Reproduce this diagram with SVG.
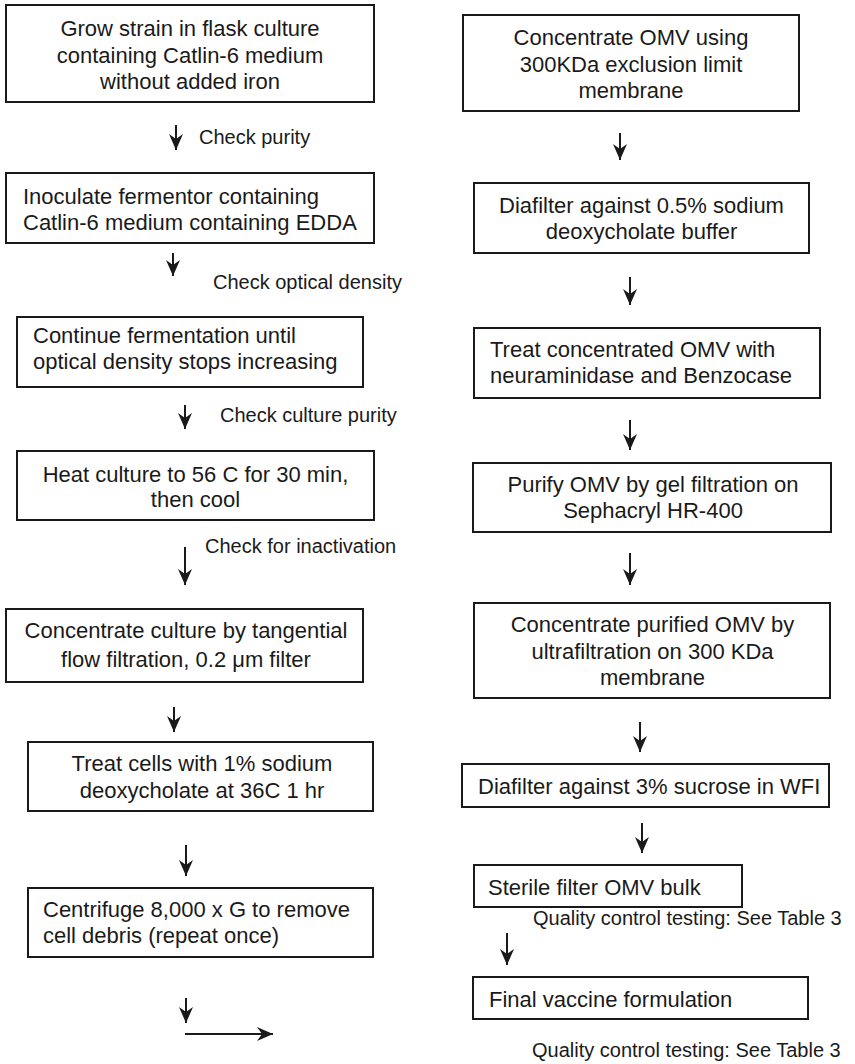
<svg xmlns="http://www.w3.org/2000/svg" width="855" height="1064" viewBox="0 0 855 1064">
<style>
.box{fill:#fff;stroke:#1a1a1a;stroke-width:2}
.t{font-family:"Liberation Sans",Arial,sans-serif;font-size:22px;fill:#1a1a1a}
.c{text-anchor:middle}
.lbl{font-family:"Liberation Sans",Arial,sans-serif;font-size:20px;fill:#1a1a1a}
.ar{stroke:#1a1a1a;stroke-width:2;fill:none;marker-end:url(#ah)}
</style>
<defs>
<marker id="ah" viewBox="0 0 16 14" refX="16" refY="7" markerWidth="16" markerHeight="14" markerUnits="userSpaceOnUse" orient="auto">
<path d="M0,0 L16,7 L0,14 L5,7 Z" fill="#1a1a1a"/>
</marker>
</defs>
<rect width="855" height="1064" fill="#fff"/>
<g id="b1"><rect class="box" x="6" y="5" width="368" height="97"/>
<text class="t c" x="190" y="36">Grow strain in flask culture</text>
<text class="t c" x="190" y="63">containing Catlin-6 medium</text>
<text class="t c" x="190" y="89">without added iron</text></g>
<g id="b2"><rect class="box" x="6" y="173" width="368" height="70"/>
<text class="t" x="23" y="204">Inoculate fermentor containing</text>
<text class="t" x="23" y="230">Catlin-6 medium containing EDDA</text></g>
<g id="b3"><rect class="box" x="17" y="317" width="346" height="70"/>
<text class="t" x="33" y="343">Continue fermentation until</text>
<text class="t" x="33" y="369">optical density stops increasing</text></g>
<g id="b4"><rect class="box" x="17" y="451" width="357" height="69"/>
<text class="t c" x="195.5" y="482">Heat culture to 56 C for 30 min,</text>
<text class="t c" x="195.5" y="507">then cool</text></g>
<g id="b5"><rect class="box" x="6" y="609" width="357" height="73"/>
<text class="t c" x="186" y="638">Concentrate culture by tangential</text>
<text class="t c" x="186" y="667">flow filtration, 0.2 μm filter</text></g>
<g id="b6"><rect class="box" x="28" y="742" width="345" height="69"/>
<text class="t c" x="202" y="771">Treat cells with 1% sodium</text>
<text class="t c" x="202" y="798">deoxycholate at 36C 1 hr</text></g>
<g id="b7"><rect class="box" x="28" y="888" width="345" height="69"/>
<text class="t" x="43" y="917">Centrifuge 8,000 x G to remove</text>
<text class="t" x="43" y="943">cell debris (repeat once)</text></g>
<g id="r1"><rect class="box" x="463" y="15" width="336" height="96"/>
<text class="t c" x="631" y="45">Concentrate OMV using</text>
<text class="t c" x="631" y="72">300KDa exclusion limit</text>
<text class="t c" x="631" y="98">membrane</text></g>
<g id="r2"><rect class="box" x="474" y="183" width="335" height="70"/>
<text class="t c" x="641.5" y="213">Diafilter against 0.5% sodium</text>
<text class="t c" x="641.5" y="239">deoxycholate buffer</text></g>
<g id="r3"><rect class="box" x="474" y="328" width="346" height="70"/>
<text class="t" x="490" y="357">Treat concentrated OMV with</text>
<text class="t" x="490" y="383">neuraminidase and Benzocase</text></g>
<g id="r4"><rect class="box" x="473" y="463" width="358" height="69"/>
<text class="t c" x="653" y="492">Purify OMV by gel filtration on</text>
<text class="t c" x="653" y="518">Sephacryl HR-400</text></g>
<g id="r5"><rect class="box" x="474" y="603" width="356" height="95"/>
<text class="t c" x="652.5" y="632">Concentrate purified OMV by</text>
<text class="t c" x="652.5" y="659">ultrafiltration on 300 KDa</text>
<text class="t c" x="652.5" y="685">membrane</text></g>
<g id="r6"><rect class="box" x="462" y="764" width="367" height="43"/>
<text class="t" x="478" y="794">Diafilter against 3% sucrose in WFI</text></g>
<g id="r7"><rect class="box" x="474" y="865" width="268" height="42"/>
<text class="t" x="488" y="895">Sterile filter OMV bulk</text></g>
<g id="r8"><rect class="box" x="473" y="977" width="335" height="42"/>
<text class="t" x="489" y="1007">Final vaccine formulation</text></g>
<g id="connectors">
<line class="ar" x1="176" y1="125" x2="176" y2="150"/>
<line class="ar" x1="173" y1="253" x2="173" y2="276"/>
<line class="ar" x1="185" y1="405" x2="185" y2="429"/>
<line class="ar" x1="185" y1="547" x2="185" y2="585"/>
<line class="ar" x1="174" y1="707" x2="174" y2="732"/>
<line class="ar" x1="186" y1="845" x2="186" y2="876"/>
<line class="ar" x1="186" y1="998" x2="186" y2="1023"/>
<line class="ar" x1="185" y1="1034" x2="273" y2="1034"/>
<line class="ar" x1="620" y1="133" x2="620" y2="160"/>
<line class="ar" x1="630" y1="277" x2="630" y2="305"/>
<line class="ar" x1="630" y1="420" x2="630" y2="450"/>
<line class="ar" x1="630" y1="553" x2="630" y2="585"/>
<line class="ar" x1="640" y1="722" x2="640" y2="752"/>
<line class="ar" x1="642" y1="823" x2="642" y2="853"/>
<line class="ar" x1="507" y1="933" x2="507" y2="965"/>
</g>
<g id="labels">
<text class="lbl" x="199" y="144">Check purity</text>
<text class="lbl" x="213" y="289">Check optical density</text>
<text class="lbl" x="220" y="422">Check culture purity</text>
<text class="lbl" x="205" y="553">Check for inactivation</text>
<text class="lbl" x="533" y="925">Quality control testing: See Table 3</text>
<text class="lbl" x="532" y="1057">Quality control testing: See Table 3</text>
</g>
</svg>
